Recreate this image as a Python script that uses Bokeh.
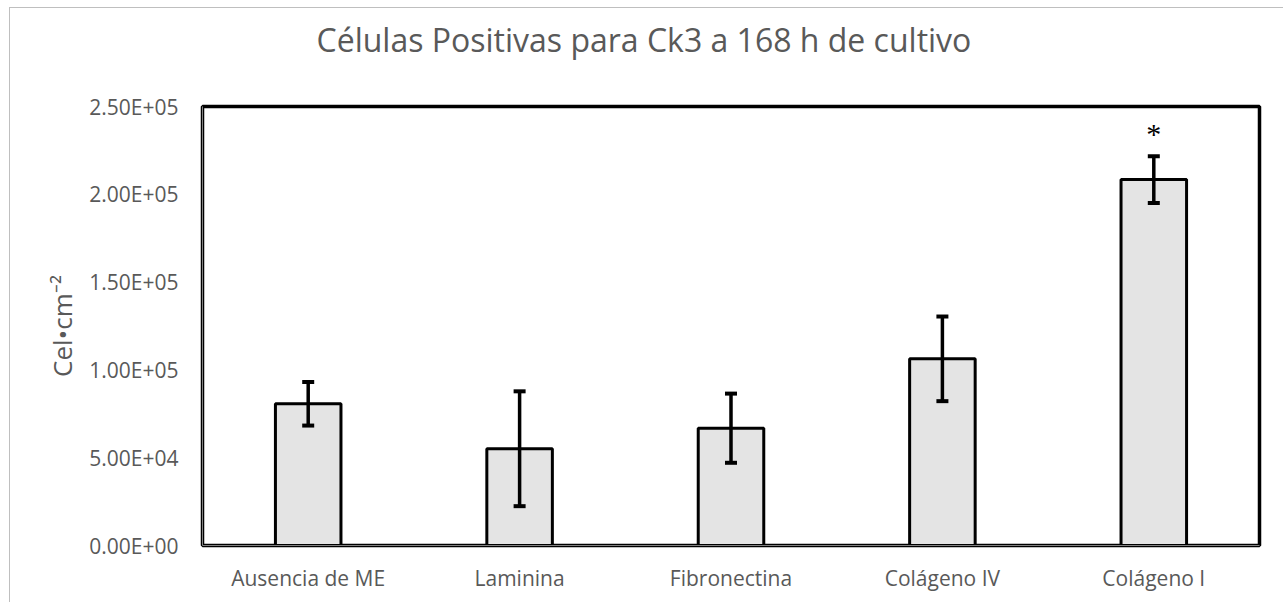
from bokeh.plotting import figure
from bokeh.models import ColumnDataSource, Whisker, TeeHead, Range1d, FactorRange, Title
from bokeh.core.properties import value
from bokeh.embed import file_html
from bokeh.resources import INLINE

categories = ["Ausencia de ME", "Laminina", "Fibronectina", "Colágeno IV", "Colágeno I"]
means = [80700, 55100, 66800, 106300, 208400]
errors = [12400, 32700, 19700, 24100, 13300]
y_ticks = [0, 50000, 100000, 150000, 200000, 250000]
y_tick_labels = ["0.00E+00", "5.00E+04", "1.00E+05", "1.50E+05", "2.00E+05", "2.50E+05"]
significant = ["Colágeno I"]
title_text = "Células Positivas para Ck3 a 168 h de cultivo"
y_label = "Cel•cm⁻²"

src = ColumnDataSource(dict(
    cat=categories, mean=means,
    upper=[m + e for m, e in zip(means, errors)],
    lower=[m - e for m, e in zip(means, errors)],
))

p = figure(x_range=FactorRange(*categories, range_padding=0),
           y_range=Range1d(0, 250000),
           width=1274, height=595, output_backend="svg", toolbar_location=None,
           min_border_left=192, min_border_top=98, min_border_right=25, min_border_bottom=58,
           styles={"margin-left": "9px", "margin-top": "7px",
                   "border-left": "1px solid #bfbfbf", "border-top": "1px solid #bfbfbf"})

# a blank second line keeps the title well above the plot frame
t = Title(text=title_text + "\n ", align="left", offset=114, standoff=6,
          text_font="Open Sans", text_font_size="32px", text_font_style="normal",
          text_color="#595959")
p.add_layout(t, "above")

p.vbar(x="cat", top="mean", width=0.31, source=src, fill_color="#e4e4e4",
       line_color="black", line_width=3)

w = Whisker(base="cat", upper="upper", lower="lower", source=src,
            line_color="black", line_width=3.5, level="overlay",
            upper_head=TeeHead(size=12, line_color="black", line_width=4),
            lower_head=TeeHead(size=12, line_color="black", line_width=4))
p.add_layout(w)

# significance asterisk
sig_idx = [categories.index(c) for c in significant]
p.text(x=[categories[i] for i in sig_idx], y=[means[i] + errors[i] + 13000 for i in sig_idx],
       text=["*"] * len(sig_idx), text_align="center", text_baseline="middle",
       text_font=value("Liberation Serif"), text_font_size="30px", text_color="black")

p.xgrid.visible = False
p.ygrid.visible = False
p.outline_line_color = "black"
p.outline_line_width = 3.5
p.outline_line_alpha = 1

p.yaxis.ticker = y_ticks
p.yaxis.major_label_overrides = {t: l for t, l in zip(y_ticks, y_tick_labels)}
p.yaxis.major_tick_line_color = None
p.yaxis.minor_tick_line_color = None
p.yaxis.axis_line_color = "#808080"
p.yaxis.major_label_standoff = 18
p.yaxis.major_label_text_font = "Open Sans"
p.yaxis.major_label_text_font_size = "21px"
p.yaxis.major_label_text_color = "#595959"
p.yaxis.axis_label = y_label
p.yaxis.axis_label_text_font = "Open Sans"
p.yaxis.axis_label_text_font_size = "26px"
p.yaxis.axis_label_text_font_style = "normal"
p.yaxis.axis_label_text_color = "#595959"
p.yaxis.axis_label_standoff = 6

p.xaxis.major_tick_line_color = None
p.xaxis.minor_tick_line_color = None
p.xaxis.axis_line_color = "#808080"
p.xaxis.major_label_standoff = 12
p.xaxis.major_label_text_font = "Open Sans"
p.xaxis.major_label_text_font_size = "21px"
p.xaxis.major_label_text_color = "#595959"

open("out.html", "w").write(file_html(p, INLINE))
